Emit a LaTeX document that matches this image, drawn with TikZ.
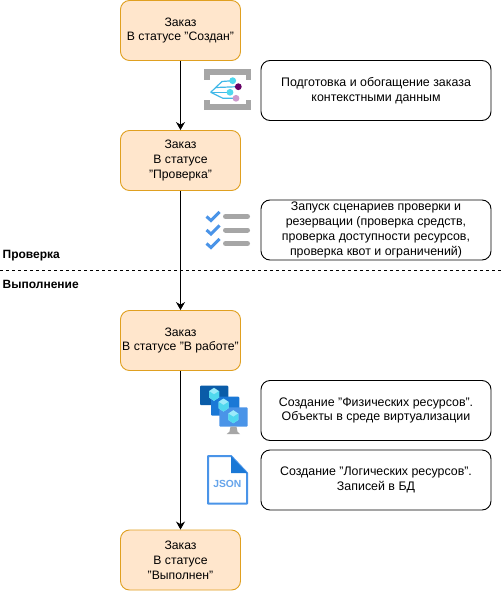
\documentclass[tikz,border=0pt]{standalone}
\usepackage{fontspec}
\setmainfont{Liberation Sans}
\usetikzlibrary{arrows.meta, positioning}
\definecolor{orderfill}{HTML}{FFE6CC}
\definecolor{orderline}{HTML}{E0A020}
\definecolor{icongray}{HTML}{A6A6A6}
\definecolor{iconblue}{HTML}{4A94E8}
\definecolor{icondark}{HTML}{0A5CA8}
\definecolor{iconmid}{HTML}{1A78D6}
\definecolor{iconcyan}{HTML}{50D8EE}
\definecolor{iconline}{HTML}{40B8E8}
\definecolor{iconcube}{HTML}{9CEBFA}
\tikzset{
    orderbox/.style={draw=orderline, fill=orderfill, rounded corners=9pt, line width=0.9pt,
        minimum width=120pt, minimum height=60pt, inner sep=0pt, align=center, font=\fontsize{12.2}{14.9}\selectfont},
    notebox/.style={draw=black, fill=white, rounded corners=9pt, line width=0.9pt,
        minimum width=230pt, minimum height=60pt, inner sep=0pt, align=center, font=\fontsize{12.4}{14.8}\selectfont},
    phase/.style={anchor=west, inner sep=0pt, text height=9pt, text depth=3pt, font=\fontsize{12}{14.4}\selectfont\bfseries},
    flow/.style={draw=black, line width=0.9pt, -{Stealth[length=8pt,width=9pt]}},
}
\begin{document}
\begin{tikzpicture}[x=1pt, y=-1pt]
    \useasboundingbox[fill=white] (0,0) rectangle (502,591);
    % orders
    \node[orderbox] (created) at (180.5,30.5) {Заказ\\В статусе "Создан"};
    \node[orderbox] (checking) at (180.5,160.5) {Заказ\\В статусе\\"Проверка"};
    \node[orderbox] (working) at (180.5,340.5) {Заказ\\В статусе "В работе"};
    \node[orderbox] (done) at (180.5,560) {Заказ\\В статусе\\"Выполнен"};
    % notes
    \node[notebox] (prepare) at (376,90.5) {Подготовка и обогащение заказа\\контекстными данным};
    \node[notebox] (scenario) at (376,230) {Запуск сценариев проверки и\\резервации (проверка средств,\\проверка доступности ресурсов,\\проверка квот и ограничений)};
    \node[notebox] (physical) at (376,410.5) {Создание "Физических ресурсов".\\Объекты в среде виртуализации};
    \node[notebox] (logical) at (376,480) {Создание "Логических ресурсов".\\Записей в БД};
    % phases
    \node[phase] (check) at (2.5,255) {Проверка};
    \node[phase] (run) at (2.5,285) {Выполнение};
    \coordinate (sepleft) at (0,270);
    \coordinate (sepright) at (502,270);
    \draw[dashed, line width=0.8pt] (sepleft) -- (sepright);
    % flow
    \draw[flow] (created) -- (checking);
    \draw[flow] (checking) -- (working);
    \draw[flow] (working) -- (done);
    % pipeline icon
    \fill[icongray] (204,69.5) rectangle (251,75);
    \fill[icongray] (204,69.5) rectangle (209.5,80);
    \fill[icongray] (245.5,69.5) rectangle (251,80);
    \fill[icongray] (204,104.5) rectangle (251,110);
    \fill[icongray] (204,100) rectangle (209.5,110);
    \fill[icongray] (245.5,100) rectangle (251,110);
    \draw[iconline, line width=1.2pt] (210.7,92.3) -- (222,81.5) -- (232.7,80.7);
    \draw[iconline, line width=1.2pt] (216,87.5) -- (238,86.7);
    \draw[iconline, line width=1.2pt] (210.7,92.3) -- (230,92.3);
    \draw[iconline, line width=1.2pt] (210.7,92.3) -- (223,98.3) -- (236,98.3);
    \fill[iconcyan] (232.7,80.7) circle (3.4pt);
    \fill[violet!80!black] (238.3,86.7) circle (3.4pt);
    \fill[iconcyan] (230,92.3) circle (3.4pt);
    \fill[violet!40] (236,98.3) circle (3.4pt);
    % checklist icon
    \foreach \y in {216.5,230,243.5} {
        \draw[iconblue, line width=3pt] (206.5,\y) -- (211,\y+4) -- (219.5,\y-4.5);
        \draw[icongray, line width=5pt, line cap=round] (225.5,\y) -- (247.5,\y);
    }
    % vm icon
    \fill[rounded corners=1pt, icondark] (200,385.7) rectangle (228.3,405);
    \fill[rounded corners=1pt, iconmid] (211,396.7) rectangle (239.3,415.7);
    \fill[rounded corners=1pt, iconblue] (219.3,407.3) rectangle (247.7,426.7);
    \fill[icongray] (230.5,426.7) -- (236.5,426.7) -- (237.5,431.7) -- (240,434) -- (226.7,434) -- (229.5,431.7) -- cycle;
    \foreach \cx/\cy in {214/394.3, 223.5/405, 233.3/416.7} {
        \fill[iconcube] (\cx,\cy-6.5) -- (\cx+5,\cy-3.2) -- (\cx+5,\cy+3.2) -- (\cx,\cy+6.5) -- (\cx-5,\cy+3.2) -- (\cx-5,\cy-3.2) -- cycle;
        \fill[iconcyan] (\cx,\cy) -- (\cx+5,\cy-3.2) -- (\cx+5,\cy+3.2) -- (\cx,\cy+6.5) -- (\cx-5,\cy+3.2) -- (\cx-5,\cy-3.2) -- cycle;
    }
    % json icon
    \draw[iconblue, fill=white, line width=2pt, line join=round] (208,456) -- (231,456) -- (247,473) -- (247,503.5) -- (208,503.5) -- cycle;
    \fill[iconmid] (231,456) -- (247,473) -- (231,473) -- cycle;
    \node[inner sep=0pt, text=iconblue!85!white, font=\fontsize{10.3}{12}\selectfont\bfseries] (json) at (227.3,484) {JSON};
\end{tikzpicture}
\end{document}
